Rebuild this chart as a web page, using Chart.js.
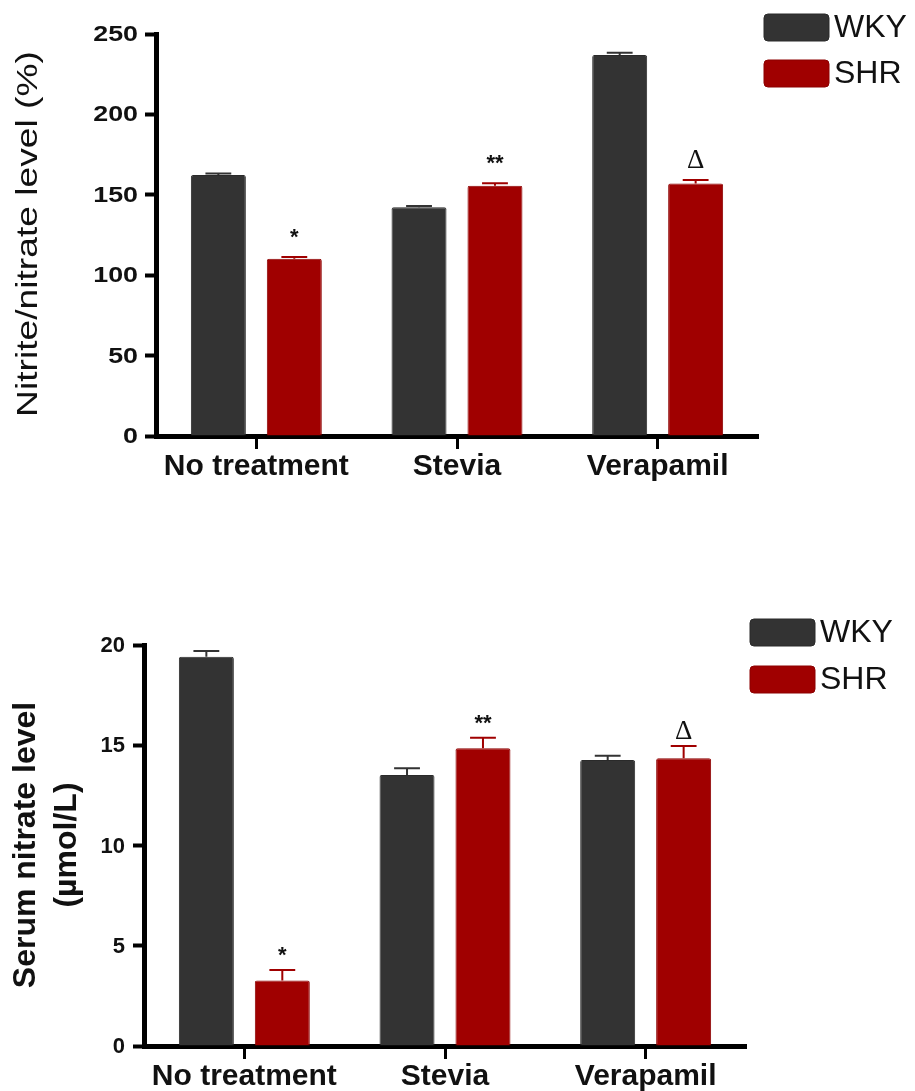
<!DOCTYPE html>
<html>
<head>
<meta charset="utf-8">
<script src="https://cdn.jsdelivr.net/npm/chart.js@4.4.1/dist/chart.umd.min.js"></script>
<style>
  html, body { margin: 0; padding: 0; background: #fff; }
  #wrap { position: relative; width: 915px; height: 1091px; overflow: hidden; }
  canvas { position: absolute; left: 0; }
  #nitriteChart { top: 0; }
  #serumChart { top: 535px; }
</style>
</head>
<body>
<div id="wrap">
  <canvas id="nitriteChart" width="915" height="535"></canvas>
  <canvas id="serumChart" width="915" height="556"></canvas>
</div>
<script>
// Groups and strains
const categories = ['No treatment', 'Stevia', 'Verapamil'];
const seriesNames = ['WKY', 'SHR'];

// Nitrite/nitrate level (%), mean and SEM
const nitriteWKY = [162.3, 142.3, 236.9];
const nitriteWKYErr = [0.9, 0.8, 1.4];
const nitriteSHR = [110.3, 155.7, 157.1];
const nitriteSHRErr = [1.0, 1.5, 2.1];
const nitriteMarks = ['*', '**', 'Δ'];
const nitriteTicks = [0, 50, 100, 150, 200, 250];

// Serum nitrate level (µmol/L), mean and SEM
const serumWKY = [19.42, 13.52, 14.26];
const serumWKYErr = [0.28, 0.33, 0.22];
const serumSHR = [3.27, 14.85, 14.35];
const serumSHRErr = [0.52, 0.53, 0.61];
const serumMarks = ['*', '**', 'Δ'];
const serumTicks = [0, 5, 10, 15, 20];

const WKY_COLOR = '#333333';
const SHR_COLOR = '#a00000';
const TEXT_COLOR = '#111111';
const SANS = "'Liberation Sans', Arial, sans-serif";
const SERIF = "'Liberation Serif', 'Times New Roman', serif";

// Error bars (mean + SEM) and significance marks above the SHR bars
const errorBarPlugin = {
  id: 'errorBars',
  afterDatasetsDraw(chart, args, opts) {
    const ctx = chart.ctx;
    const y = chart.scales.y;
    chart.data.datasets.forEach((ds, di) => {
      const meta = chart.getDatasetMeta(di);
      meta.data.forEach((bar, i) => {
        const v = ds.data[i];
        const e = ds.errors[i];
        const yTop = y.getPixelForValue(v + e);
        const yBar = y.getPixelForValue(v);
        const capW = bar.width * 0.47;
        ctx.save();
        ctx.strokeStyle = ds.backgroundColor;
        ctx.lineWidth = 2;
        ctx.beginPath();
        ctx.moveTo(bar.x, yBar);
        ctx.lineTo(bar.x, yTop);
        ctx.moveTo(bar.x - capW / 2, yTop);
        ctx.lineTo(bar.x + capW / 2, yTop);
        ctx.stroke();
        ctx.restore();
        if (ds.marks && ds.marks[i]) {
          const m = ds.marks[i];
          ctx.save();
          ctx.fillStyle = TEXT_COLOR;
          ctx.textAlign = 'center';
          ctx.textBaseline = 'middle';
          ctx.font = m === 'Δ' ? `27px ${SERIF}` : `bold 22px ${SANS}`;
          ctx.fillText(m, bar.x, yTop - opts.markGap);
          ctx.restore();
        }
      });
    });
  }
};

// Y tick labels, axis title and legend
const textPlugin = {
  id: 'chartText',
  afterDraw(chart, args, opts) {
    const ctx = chart.ctx;
    const area = chart.chartArea;
    const y = chart.scales.y;

    // y tick labels
    ctx.save();
    ctx.fillStyle = TEXT_COLOR;
    ctx.font = `bold 22px ${SANS}`;
    ctx.textAlign = 'right';
    ctx.textBaseline = 'middle';
    y.ticks.forEach(t => {
      const py = y.getPixelForValue(t.value);
      ctx.save();
      ctx.translate(area.left - opts.tickGap, py);
      ctx.scale(opts.tickStretch, 1);
      ctx.fillText(String(t.value), 0, 1);
      ctx.restore();
    });
    ctx.restore();

    // y axis title (rotated)
    ctx.save();
    ctx.fillStyle = TEXT_COLOR;
    ctx.font = opts.title.font;
    ctx.textAlign = 'center';
    ctx.textBaseline = 'alphabetic';
    ctx.translate(0, opts.title.cy);
    ctx.rotate(-Math.PI / 2);
    opts.title.lines.forEach((line, k) => {
      ctx.save();
      ctx.translate(0, opts.title.baselines[k]);
      ctx.scale(opts.title.stretch, 1);
      ctx.fillText(line, 0, 0);
      ctx.restore();
    });
    ctx.restore();

    // legend
    const lg = opts.legend;
    chart.data.datasets.forEach((ds, di) => {
      const bx = lg.x, by = lg.y + di * lg.step;
      ctx.save();
      ctx.fillStyle = ds.backgroundColor;
      ctx.strokeStyle = ds.borderColor;
      ctx.lineWidth = 1;
      ctx.beginPath();
      ctx.roundRect(bx, by, 65, 27, 4);
      ctx.fill();
      ctx.stroke();
      ctx.fillStyle = TEXT_COLOR;
      ctx.font = `32px ${SANS}`;
      ctx.textAlign = 'left';
      ctx.textBaseline = 'alphabetic';
      ctx.fillText(ds.label, bx + 70, by + 23);
      ctx.restore();
    });
  }
};

function makeChart(canvas, cfg) {
  const ticks = cfg.ticks;
  return new Chart(canvas, {
    type: 'bar',
    data: {
      labels: categories,
      datasets: [
        {
          label: seriesNames[0], data: cfg.wky, errors: cfg.wkyErr,
          backgroundColor: WKY_COLOR, borderColor: '#2a2a2a', borderWidth: 1, borderRadius: 2,
          categoryPercentage: 0.757, barPercentage: 0.724
        },
        {
          label: seriesNames[1], data: cfg.shr, errors: cfg.shrErr, marks: cfg.marks,
          backgroundColor: SHR_COLOR, borderColor: '#8c0000', borderWidth: 1, borderRadius: 2,
          categoryPercentage: 0.757, barPercentage: 0.724
        }
      ]
    },
    options: {
      responsive: false,
      animation: false,
      devicePixelRatio: 1,
      layout: { padding: { top: cfg.padTop, right: cfg.padRight, left: 0, bottom: 0 } },
      plugins: {
        legend: { display: false },
        tooltip: { enabled: false },
        errorBars: { markGap: cfg.markGap },
        chartText: {
          tickGap: cfg.tickGap,
          tickStretch: cfg.tickStretch,
          title: cfg.title,
          legend: cfg.legend
        }
      },
      scales: {
        x: {
          grid: { offset: false, drawOnChartArea: false, drawTicks: true, tickLength: 13, tickWidth: 3, tickColor: '#000' },
          border: { display: true, color: '#000', width: 5 },
          ticks: { color: TEXT_COLOR, font: { family: SANS, size: 30, weight: 'bold' }, padding: 0, maxRotation: 0, autoSkip: false },
          afterFit(s) { s.height = cfg.xHeight; }
        },
        y: {
          min: ticks[0],
          max: ticks[ticks.length - 1],
          ticks: { stepSize: ticks[1] - ticks[0], display: false },
          grid: { drawOnChartArea: false, drawTicks: true, tickLength: 11, tickWidth: 4, tickColor: '#000' },
          border: { display: true, color: '#000', width: 5 },
          afterFit(s) { s.width = cfg.yWidth; }
        }
      }
    },
    plugins: [errorBarPlugin, textPlugin]
  });
}

makeChart(document.getElementById('nitriteChart'), {
  wky: nitriteWKY, wkyErr: nitriteWKYErr, shr: nitriteSHR, shrErr: nitriteSHRErr,
  marks: nitriteMarks, ticks: nitriteTicks,
  padTop: 34, padRight: 157, yWidth: 156, xHeight: 99,
  markGap: 19, tickGap: 18, tickStretch: 1.22,
  title: { lines: ['Nitrite/nitrate level (%)'], baselines: [37], cy: 234, stretch: 1.24, font: `30px ${SANS}` },
  legend: { x: 764, y: 14, step: 46 }
});

makeChart(document.getElementById('serumChart'), {
  wky: serumWKY, wkyErr: serumWKYErr, shr: serumSHR, shrErr: serumSHRErr,
  marks: serumMarks, ticks: serumTicks,
  padTop: 110, padRight: 169, yWidth: 144, xHeight: 45,
  markGap: 14, tickGap: 19, tickStretch: 1.0,
  title: { lines: ['Serum nitrate level', '(µmol/L)'], baselines: [35, 76], cy: 310, stretch: 1.0, font: `bold 32px ${SANS}` },
  legend: { x: 750, y: 84, step: 47 }
});
</script>
</body>
</html>
